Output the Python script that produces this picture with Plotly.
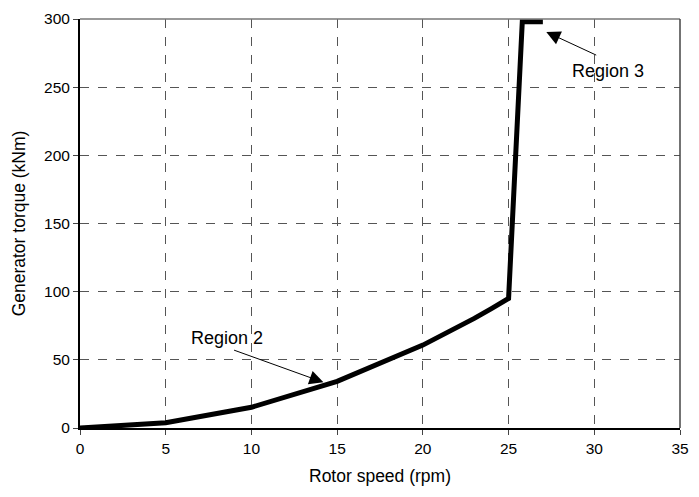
import plotly.graph_objects as go

# Generator torque vs rotor speed control curve
rotor_speed = [0, 5, 10, 15, 20, 21, 22, 23, 24, 25, 25.8, 27]
gen_torque = [0, 3.8, 15.2, 34.2, 60.8, 67.0, 73.6, 80.4, 87.6, 95.0, 298, 298]

x_ticks = [0, 5, 10, 15, 20, 25, 30, 35]
y_ticks = [0, 50, 100, 150, 200, 250, 300]

font_family = "Liberation Sans, Arial, sans-serif"

fig = go.Figure()
fig.add_trace(go.Scatter(
    x=rotor_speed, y=gen_torque, mode="lines",
    line=dict(color="black", width=5),
    showlegend=False, hoverinfo="skip",
))

axis_common = dict(
    showgrid=True, gridcolor="#555555", gridwidth=1, griddash="dash",
    zeroline=False, showline=True, linecolor="black", linewidth=2,
    ticks="outside", ticklen=5, tickcolor="#444444", tickwidth=1,
    tickfont=dict(family=font_family, size=15.5, color="black"),
)

fig.update_xaxes(
    range=[0, 35], tickvals=x_ticks,
    title=dict(text="Rotor speed (rpm)", font=dict(family=font_family, size=17.5, color="black"), standoff=14),
    **axis_common,
)
fig.update_yaxes(
    range=[0, 300], tickvals=y_ticks,
    title=dict(text="Generator torque (kNm)", font=dict(family=font_family, size=17.5, color="black"), standoff=14),
    **axis_common,
)

# top and right frame edges
fig.add_shape(type="line", xref="paper", yref="paper", x0=0, x1=1, y0=1, y1=1,
              line=dict(color="#777777", width=1.5))
fig.add_shape(type="line", xref="paper", yref="paper", x0=1, x1=1, y0=0, y1=1,
              line=dict(color="#444444", width=1.5))

# region labels with pointer arrows
fig.add_annotation(
    x=14.2, y=33.5, ax=8.9, ay=57.5, axref="x", ayref="y",
    text="", showarrow=True, arrowhead=2, arrowsize=2.8, arrowwidth=1, arrowcolor="black",
)
fig.add_annotation(x=8.56, y=66, text="Region 2", showarrow=False,
                   font=dict(family=font_family, size=18, color="black"))
fig.add_annotation(
    x=27.2, y=290.5, ax=30.2, ay=273, axref="x", ayref="y",
    text="", showarrow=True, arrowhead=2, arrowsize=2.8, arrowwidth=1, arrowcolor="black",
)
fig.add_annotation(x=30.78, y=262, text="Region 3", showarrow=False,
                   font=dict(family=font_family, size=18, color="black"))

fig.update_layout(
    width=699, height=497,
    margin=dict(l=80, r=10, t=15, b=69),
    plot_bgcolor="white", paper_bgcolor="white",
)

fig.write_html("out.html")
